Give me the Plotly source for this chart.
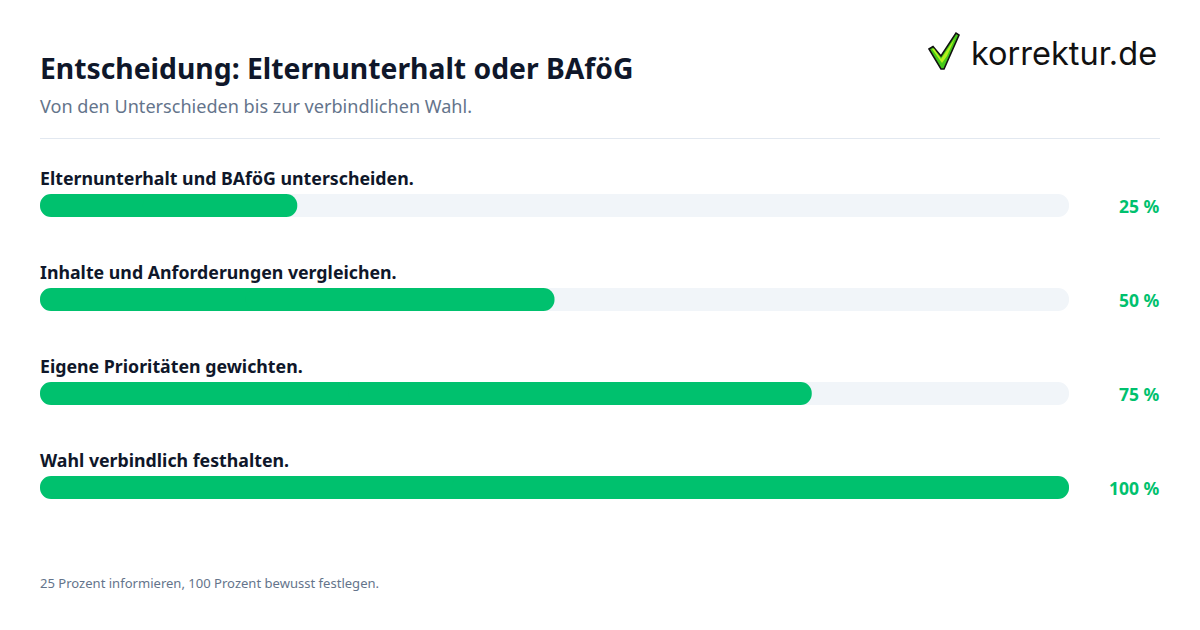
import plotly.graph_objects as go

# Data
steps = ['Elternunterhalt und BAföG unterscheiden.', 'Inhalte und Anforderungen vergleichen.',
         'Eigene Prioritäten gewichten.', 'Wahl verbindlich festhalten.']
values = [25, 50, 75, 100]
track = [100, 100, 100, 100]
value_labels = ['25 %', '50 %', '75 %', '100 %']

GREEN = '#00c16e'
FONT = 'Noto Sans'
W, H = 1200, 630


def px(x):
    return x / W


def py(y):
    return 1 - y / H


def add_pill(fig, vals, color):
    # plotly only rounds the far end of a bar, so two overlapping halves give a pill
    left_base = [v * 0.6 for v in vals]
    right_base = [v * 0.4 for v in vals]
    fig.add_trace(go.Bar(y=steps, x=[-b for b in left_base], base=left_base, orientation='h', width=23 / 94,
                         marker=dict(color=color, cornerradius=11.5, line_width=0), hoverinfo='skip', showlegend=False))
    fig.add_trace(go.Bar(y=steps, x=[v - b for v, b in zip(vals, right_base)], base=right_base, orientation='h', width=23 / 94,
                         marker=dict(color=color, cornerradius=11.5, line_width=0), hoverinfo='skip', showlegend=False))


def add_poly(fig, points, fill, line_color=None, line_width=0):
    path = 'M ' + ' L '.join(f'{px(x)} {py(y)}' for x, y in points) + ' Z'
    fig.add_shape(type='path', xref='paper', yref='paper', path=path, fillcolor=fill,
                  line=dict(color=line_color or fill, width=line_width))


fig = go.Figure()
add_pill(fig, track, '#f1f5f9')
add_pill(fig, values, GREEN)

# step labels above bars, percentages on the right
for step, label in zip(steps, value_labels):
    fig.add_annotation(x=0, y=step, xref='x', yref='y', text=step, showarrow=False, xanchor='left', yanchor='middle',
                       yshift=27.5, xshift=-2, font=dict(family=FONT, size=17.76, weight=700, color='#0f172a'))
    fig.add_annotation(x=px(1162), y=step, xref='paper', yref='y', text=label, showarrow=False, xanchor='right',
                       yanchor='middle', yshift=0, font=dict(family=FONT, size=17.5, weight=700, color=GREEN))

# Header and footer
fig.add_annotation(x=px(38), y=py(68), xref='paper', yref='paper', text='Entscheidung: Elternunterhalt oder BAföG', showarrow=False,
                   xanchor='left', yanchor='middle', font=dict(family=FONT, size=28.3, weight=700, color='#0f172a'))
fig.add_annotation(x=px(38), y=py(106), xref='paper', yref='paper', text='Von den Unterschieden bis zur verbindlichen Wahl.', showarrow=False,
                   xanchor='left', yanchor='middle', font=dict(family=FONT, size=18.08, color='#64748b'))
fig.add_annotation(x=px(38), y=py(583), xref='paper', yref='paper', text='25 Prozent informieren, 100 Prozent bewusst festlegen.', showarrow=False,
                   xanchor='left', yanchor='middle', font=dict(family=FONT, size=13.05, color='#64748b'))
fig.add_shape(type='line', xref='paper', yref='paper', x0=px(40), x1=px(1160), y0=py(138.5), y1=py(138.5), line=dict(color='#e2e8f0', width=1))

# Logo
fig.add_annotation(x=px(969), y=py(53), xref='paper', yref='paper', text='korrektur.de', showarrow=False, xanchor='left', yanchor='middle',
                   font=dict(family='Inter', size=32.5, color='#111111'))
add_poly(fig, [(929, 49), (933, 46.5), (941, 56), (956, 33), (959, 35), (944, 69), (941, 69)], '#45c81a', '#111111', 1.6)
add_poly(fig, [(932, 49), (934, 48.5), (941, 59), (955, 38), (947, 56), (942, 63)], '#b4f01e')

fig.update_layout(
    barmode='overlay',
    width=W,
    height=H,
    margin=dict(l=0, r=0, t=0, b=0),
    paper_bgcolor='white',
    plot_bgcolor='white',
    xaxis=dict(domain=[px(40), px(1069)], range=[0, 100], visible=False),
    yaxis=dict(domain=[py(534.5), py(158.5)], autorange='reversed', visible=False),
)

fig.write_html('out.html', post_script="document.body.style.margin='0';", config=dict(displayModeBar=False))
